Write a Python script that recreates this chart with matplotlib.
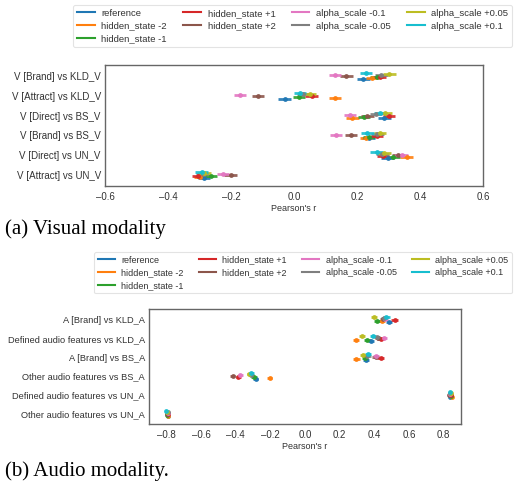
import matplotlib
matplotlib.use("Agg")
import matplotlib.pyplot as plt
from matplotlib.lines import Line2D

plt.rcParams['font.family'] = ['Liberation Sans', 'DejaVu Sans']

series = ['reference', 'hidden_state -2', 'hidden_state -1', 'hidden_state +1',
          'hidden_state +2', 'alpha_scale -0.1', 'alpha_scale -0.05',
          'alpha_scale +0.05', 'alpha_scale +0.1']
colors = ['#1f77b4', '#ff7f0e', '#2ca02c', '#d62728', '#8c564b',
          '#e377c2', '#7f7f7f', '#bcbd22', '#17becf']

# visual modality
visual_rows = ['V [Brand] vs KLD_V', 'V [Attract] vs KLD_V', 'V [Direct] vs BS_V',
               'V [Brand] vs BS_V', 'V [Direct] vs UN_V', 'V [Attract] vs UN_V']
visual_r = [
    [0.220, -0.030, 0.287, 0.237, 0.297, -0.286],   # reference
    [0.247, 0.130, 0.185, 0.228, 0.358, -0.298],    # hidden_state -2
    [0.262, 0.016, 0.222, 0.238, 0.315, -0.264],    # hidden_state -1
    [0.273, 0.056, 0.302, 0.264, 0.283, -0.305],    # hidden_state +1
    [0.166, -0.114, 0.233, 0.181, 0.330, -0.201],   # hidden_state +2
    [0.130, -0.171, 0.178, 0.133, 0.342, -0.226],   # alpha_scale -0.1
    [0.277, 0.030, 0.260, 0.265, 0.280, -0.290],    # alpha_scale -0.05
    [0.303, 0.051, 0.290, 0.273, 0.287, -0.285],    # alpha_scale +0.05
    [0.228, 0.019, 0.273, 0.233, 0.262, -0.293],    # alpha_scale +0.1
]
visual_err = [0.02, 0.02, 0.02, 0.02, 0.02, 0.02]

# audio modality
audio_rows = ['A [Brand] vs KLD_A', 'Defined audio features vs KLD_A', 'A [Brand] vs BS_A',
              'Other audio features vs BS_A', 'Defined audio features vs UN_A',
              'Other audio features vs UN_A']
audio_r = [
    [0.483, 0.379, 0.354, -0.284, 0.835, -0.790],
    [0.445, 0.294, 0.297, -0.203, 0.848, -0.790],
    [0.417, 0.360, 0.347, -0.294, 0.840, -0.795],
    [0.517, 0.436, 0.436, -0.385, 0.840, -0.792],
    [0.450, 0.420, 0.407, -0.416, 0.830, -0.795],
    [0.460, 0.455, 0.410, -0.373, 0.838, -0.790],
    [0.455, 0.417, 0.360, -0.310, 0.835, -0.793],
    [0.398, 0.331, 0.335, -0.322, 0.842, -0.795],
    [0.470, 0.394, 0.365, -0.309, 0.835, -0.800],
]
audio_err = [0.018, 0.018, 0.018, 0.015, 0.006, 0.006]

W, H = 514, 488
fig = plt.figure(figsize=(W / 100, H / 100), dpi=100)


def draw(ax, rows, vals, errs, xlim, xticks, ysize):
    for i, name in enumerate(series):
        ys = [k + (4 - i) * 0.035 for k in range(len(rows))]
        ax.errorbar(vals[i], ys, xerr=errs, fmt='o', ms=2.5, color=colors[i],
                    elinewidth=2, capsize=0, alpha=0.9)
    ax.set_yticks(range(len(rows)))
    ax.set_yticklabels(rows, fontsize=ysize)
    ax.set_ylim(len(rows) - 0.45, -0.55)
    ax.set_xlim(*xlim)
    ax.set_xticks(xticks)
    ax.set_xticklabels(['%.1f' % t if t >= 0 else '\u2013%.1f' % -t for t in xticks])
    ax.set_xlabel("Pearson's r", fontsize=6.5, color='#333333', labelpad=2)
    ax.tick_params(axis='x', labelsize=7, colors='#333333', length=0, pad=4)
    ax.tick_params(axis='y', colors='#333333', length=0, pad=3)
    for s in ax.spines.values():
        s.set_color('#666666')
        s.set_linewidth(1.0)


ax1 = fig.add_axes([105 / W, 1 - 186 / H, 378 / W, 121 / H])
draw(ax1, visual_rows, visual_r, visual_err, (-0.6, 0.6),
     [-0.6, -0.4, -0.2, 0.0, 0.2, 0.4, 0.6], 7)

ax2 = fig.add_axes([149 / W, 1 - 424 / H, 312 / W, 115 / H])
draw(ax2, audio_rows, audio_r, audio_err, (-0.9, 0.9),
     [-0.8, -0.6, -0.4, -0.2, 0.0, 0.2, 0.4, 0.6, 0.8], 6.7)

handles = [Line2D([], [], color=c, lw=1.5) for c in colors]
for x0, y0, fs in [(73, 5, 6.8), (94, 252, 6.5)]:
    leg = fig.legend(handles, series, loc='upper left', ncol=4,
                     bbox_to_anchor=(x0 / W, 1 - y0 / H), fontsize=fs,
                     frameon=True, handlelength=1.9, columnspacing=1.7,
                     labelspacing=0.4, borderpad=0.4, handletextpad=0.7,
                     borderaxespad=0)
    leg.get_frame().set_edgecolor('#dddddd')
    leg.get_frame().set_linewidth(0.8)
    for t in leg.get_texts():
        t.set_color('#333333')

fig.text(5 / W, 1 - 229 / H, '(a) Visual modality', family='Liberation Serif',
         fontsize=15, va='center', ha='left')
fig.text(5 / W, 1 - 471 / H, '(b) Audio modality.', family='Liberation Serif',
         fontsize=15, va='center', ha='left')

fig.savefig('out.png', dpi=100)
